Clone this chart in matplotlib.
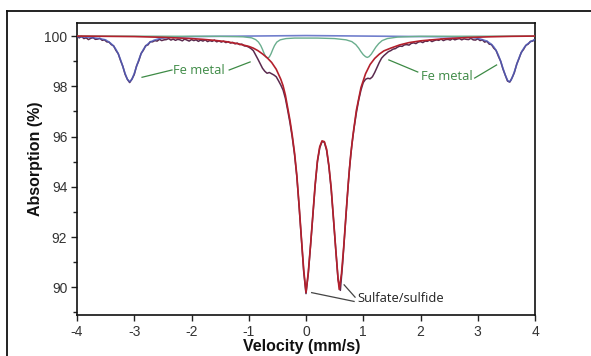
import numpy as np
import matplotlib
matplotlib.use("Agg")
import matplotlib.pyplot as plt
from matplotlib.lines import Line2D

# ---------------- data ----------------
# measured spectrum, velocity channels every 0.04 mm/s from -4 to 4
velocity = np.round(np.arange(-4.0, 4.0001, 0.04), 2)
absorption = [
    99.98, 99.93, 99.99, 99.90, 99.93, 99.86, 99.91, 99.94, 99.87, 99.88,
    99.91, 99.83, 99.85, 99.77, 99.76, 99.66, 99.61, 99.43, 99.30, 99.03,
    98.80, 98.48, 98.28, 98.15, 98.29, 98.47, 98.81, 99.02, 99.31, 99.44,
    99.62, 99.65, 99.78, 99.77, 99.82, 99.80, 99.87, 99.82, 99.85, 99.86,
    99.90, 99.84, 99.88, 99.83, 99.87, 99.85, 99.81, 99.88, 99.84, 99.80,
    99.86, 99.82, 99.85, 99.79, 99.84, 99.80, 99.85, 99.78, 99.82, 99.79,
    99.84, 99.77, 99.81, 99.76, 99.80, 99.74, 99.78, 99.72, 99.75, 99.69,
    99.72, 99.66, 99.68, 99.61, 99.60, 99.56, 99.50, 99.42, 99.25, 99.08,
    98.90, 98.72, 98.60, 98.52, 98.55, 98.50, 98.45, 98.38, 98.22, 98.05,
    97.85, 97.52, 97.05, 96.55, 95.97, 95.28, 94.40, 93.20, 91.90, 90.62,
    89.75, 90.55, 91.68, 92.88, 94.05, 95.00, 95.55, 95.80, 95.78, 95.45,
    94.80, 93.90, 92.70, 91.45, 90.30, 89.88, 90.95, 92.25, 93.55, 94.75,
    95.65, 96.35, 96.95, 97.45, 97.85, 98.15, 98.28, 98.32, 98.30, 98.38,
    98.55, 98.75, 98.95, 99.12, 99.22, 99.30, 99.38, 99.42, 99.48, 99.50,
    99.56, 99.60, 99.59, 99.65, 99.66, 99.64, 99.71, 99.73, 99.70, 99.76,
    99.78, 99.74, 99.80, 99.79, 99.84, 99.78, 99.82, 99.85, 99.83, 99.88,
    99.82, 99.86, 99.87, 99.84, 99.90, 99.85, 99.88, 99.90, 99.85, 99.89,
    99.87, 99.86, 99.91, 99.85, 99.84, 99.89, 99.82, 99.85, 99.76, 99.79,
    99.68, 99.66, 99.52, 99.43, 99.20, 99.00, 98.69, 98.45, 98.21, 98.17,
    98.34, 98.55, 98.88, 99.10, 99.35, 99.47, 99.63, 99.68, 99.79, 99.80,
    99.87,
]

# sulfate/sulfide doublet fit (red)
red_v = [-4.0, -3.5, -3.0, -2.5, -2.0, -1.8, -1.6, -1.4, -1.2, -1.0, -0.92, -0.84,
         -0.76, -0.68, -0.60, -0.52, -0.44, -0.40, -0.36, -0.32, -0.28, -0.24, -0.20,
         -0.16, -0.12, -0.08, -0.04, 0.0, 0.04, 0.08, 0.12, 0.16, 0.20, 0.24, 0.28,
         0.32, 0.36, 0.40, 0.44, 0.48, 0.52, 0.56, 0.58, 0.62, 0.66, 0.70, 0.74, 0.78,
         0.82, 0.88, 0.96, 1.04, 1.12, 1.20, 1.28, 1.36, 1.48, 1.64, 1.80, 2.0, 2.4,
         2.8, 3.2, 3.6, 4.0]
red_val = [100.0, 99.99, 99.98, 99.95, 99.90, 99.87, 99.83, 99.78, 99.70, 99.59, 99.52, 99.42,
           99.29, 99.14, 98.95, 98.68, 98.28, 98.02, 97.65, 97.15, 96.65, 96.05, 95.35,
           94.45, 93.25, 91.95, 90.70, 89.80, 90.60, 91.70, 92.90, 94.10, 95.05, 95.60, 95.83,
           95.80, 95.50, 94.85, 93.95, 92.75, 91.50, 90.35, 89.92, 90.55, 91.65, 92.95, 94.20, 95.25,
           96.05, 97.05, 97.95, 98.50, 98.87, 99.11, 99.28, 99.41, 99.52, 99.65, 99.74, 99.81, 99.89,
           99.94, 99.97, 99.99, 100.0]

# Fe metal outer lines (blue)
blue_v = [-4.0, -3.8, -3.6, -3.5, -3.44, -3.40, -3.36, -3.32, -3.28, -3.24, -3.20, -3.16,
          -3.12, -3.08, -3.04, -3.00, -2.96, -2.92, -2.88, -2.84, -2.80, -2.76, -2.72,
          -2.66, -2.56, -2.36, -2.0, 0.0, 2.8, 3.0, 3.16, 3.24, 3.28, 3.32, 3.36, 3.40,
          3.44, 3.48, 3.52, 3.55, 3.58, 3.62, 3.66, 3.70, 3.74, 3.78, 3.82, 3.86, 3.94, 4.0]
blue_val = [99.97, 99.955, 99.90, 99.85, 99.76, 99.69, 99.60, 99.47, 99.30, 99.06, 98.79, 98.51,
            98.28, 98.18, 98.28, 98.51, 98.79, 99.06, 99.30, 99.47, 99.60, 99.69, 99.76,
            99.83, 99.90, 99.955, 99.98, 100.02, 99.965, 99.915, 99.80, 99.67, 99.57, 99.43, 99.24, 99.00,
            98.72, 98.45, 98.24, 98.18, 98.24, 98.45, 98.72, 99.00, 99.24, 99.43, 99.57, 99.67, 99.80, 99.86]

# Fe metal inner lines (green)
green_v = [-4.0, -1.5, -1.1, -0.95, -0.88, -0.83, -0.79, -0.76, -0.73, -0.70, -0.67, -0.64,
           -0.61, -0.58, -0.55, -0.51, -0.45, -0.35, -0.2, 0.2, 0.5, 0.7, 0.8, 0.87, 0.92,
           0.96, 1.0, 1.04, 1.07, 1.10, 1.14, 1.18, 1.22, 1.27, 1.33, 1.42, 1.6, 2.0, 4.0]
green_val = [100.0, 99.99, 99.97, 99.93, 99.86, 99.76, 99.62, 99.47, 99.30, 99.17, 99.12, 99.17,
             99.30, 99.47, 99.62, 99.76, 99.85, 99.90, 99.92, 99.92, 99.90, 99.85, 99.78, 99.66,
             99.52, 99.38, 99.26, 99.18, 99.15, 99.18, 99.28, 99.42, 99.56, 99.70, 99.82, 99.90,
             99.96, 99.99, 100.0]

x_ticks = [-4, -3, -2, -1, 0, 1, 2, 3, 4]
y_ticks = [90, 92, 94, 96, 98, 100]

# ---------------- figure ----------------
W, H = 591, 356
fig = plt.figure(figsize=(W / 100, H / 100), dpi=100)
fig.patch.set_facecolor("white")

L, R, T, B = 77, 535, 23, 315
ax = fig.add_axes([L / W, 1 - B / H, (R - L) / W, (B - T) / H])

ax.plot(velocity, absorption, color="#5a2a4e", lw=1.1, zorder=2)
ax.plot(blue_v, blue_val, color="#4e5fc0", lw=1.2, alpha=0.8, zorder=3)
ax.plot(green_v, green_val, color="#6aae8e", lw=1.0, zorder=3)
ax.plot(red_v, red_val, color="#b3202c", lw=1.2, zorder=4)

ax.set_xlim(-4, 4)
ax.set_ylim(88.9, 100.52)
ax.set_xticks(x_ticks)
ax.set_yticks(y_ticks)
ax.set_yticks([89, 91, 93, 95, 97, 99], minor=True)

tick_font = dict(family=["Liberation Sans", "DejaVu Sans"], size=10)
ax.set_xticklabels([str(t) for t in x_ticks], color="#333333", **tick_font)
ax.set_yticklabels([str(t) for t in y_ticks], color="#333333", **tick_font)
ax.tick_params(which="both", direction="out", width=1.0, color="#222222")
ax.tick_params(which="major", length=4, pad=3)
ax.tick_params(which="minor", length=3)
for s in ax.spines.values():
    s.set_linewidth(1.2)
    s.set_color("#111111")

lab_font = dict(family=["Liberation Sans", "DejaVu Sans"], size=11.5, weight="bold", color="#111111")
ax.set_xlabel("Velocity (mm/s)", **lab_font)
ax.set_ylabel("Absorption (%)", **lab_font)
ax.xaxis.set_label_coords(0.49, -0.083)
ax.yaxis.set_label_coords(-0.074, 0.534)

# annotations
ann_font = dict(family=["Open Sans", "DejaVu Sans"], size=9.3)
green_txt = "#3d8a45"
ax.plot([-2.864, -2.341], [98.36, 98.65], color=green_txt, lw=0.9, zorder=5)
ax.text(-2.318, 98.63, "Fe metal", color=green_txt, ha="left", va="center", **ann_font)
ax.plot([-1.342, -0.976], [98.65, 98.97], color=green_txt, lw=0.9, zorder=5)

ax.plot([1.447, 1.952], [99.05, 98.57], color=green_txt, lw=0.9, zorder=5)
ax.text(2.004, 98.41, "Fe metal", color=green_txt, ha="left", va="center", **ann_font)
ax.plot([2.946, 3.329], [98.33, 98.85], color=green_txt, lw=0.9, zorder=5)

gray = "#444444"
ax.plot([0.099, 0.84], [89.79, 89.44], color=gray, lw=0.9, zorder=5)
ax.plot([0.666, 0.857], [90.10, 89.61], color=gray, lw=0.9, zorder=5)
ax.text(0.906, 89.54, "Sulfate/sulfide", color="#222222", ha="left", va="center", **ann_font)

# outer frame
fx, fy = 7 / W, 1 - 11 / H
fig.add_artist(Line2D([fx, fx], [0, fy], transform=fig.transFigure, color="#111111", lw=1.3))
fig.add_artist(Line2D([fx, 1.0], [fy, fy], transform=fig.transFigure, color="#111111", lw=1.3))

fig.savefig("out.png", dpi=100, facecolor="white")
